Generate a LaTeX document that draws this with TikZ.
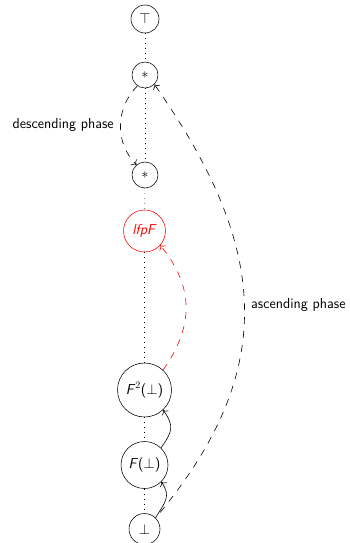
\documentclass[tikz,border=0pt]{standalone}
\usetikzlibrary{arrows.meta}
\begin{document}
\begin{tikzpicture}[x=1pt,y=-1pt,
  every node/.style={font=\fontsize{14.4}{16}\selectfont\sffamily},
  st/.style={circle,draw,line width=0.55pt,inner sep=0pt},
  dots/.style={line width=0.6pt,dash pattern=on 0.7pt off 4.3pt},
  dsh/.style={line width=0.6pt,dash pattern=on 7pt off 7pt},
  arr/.style={-{To[length=4pt,width=8pt]}},
  lbl/.style={inner sep=6.5pt}]
\useasboundingbox (0,0) rectangle (349,543);
\node[st,minimum size=28pt] (top) at (145,19) {$\top$};
\node[st,minimum size=26pt] (s1) at (145,75) {$*$};
\node[st,minimum size=26pt] (s2) at (145,175) {$*$};
\node[st,draw=red,text=red,minimum size=42pt] (lfp) at (144.5,231) {\textit{lfpF}};
\node[st,minimum size=54pt] (f2) at (144.5,390) {\textit{F}$^2$($\bot$)};
\node[st,minimum size=47pt] (f1) at (144.5,465) {\textit{F}($\bot$)};
\node[st,minimum size=31pt] (bot) at (144.5,529) {$\bot$};
\draw[dots] (top) -- (s1);
\draw[dots] (s1) -- (s2);
\draw[dots] (s2) -- (lfp);
\draw[dots] (lfp) -- (f2);
\draw[dots] (f2) -- (f1);
\draw[dots] (f1) -- (bot);
\draw[dsh,arr] (s1.235) .. controls +(-225:31) and +(-135:31) .. node[lbl,left] {descending phase} (s2.130);
\draw[dsh,arr,dash phase=7pt] (bot.45) .. controls +(-50:196) and +(55:196) .. node[lbl,right] {ascending phase} (s1.-45);
\draw[dsh,arr,red] (f2.47) .. controls +(-55:54) and +(51:54) .. (lfp.-42);
\draw[line width=0.6pt,arr] (f1.46) .. controls +(-55:20) and +(55:20) .. (f2.-47);
\draw[line width=0.6pt,arr] (bot.45) .. controls +(-60:18) and +(55:18) .. (f1.-45);
\end{tikzpicture}
\end{document}
